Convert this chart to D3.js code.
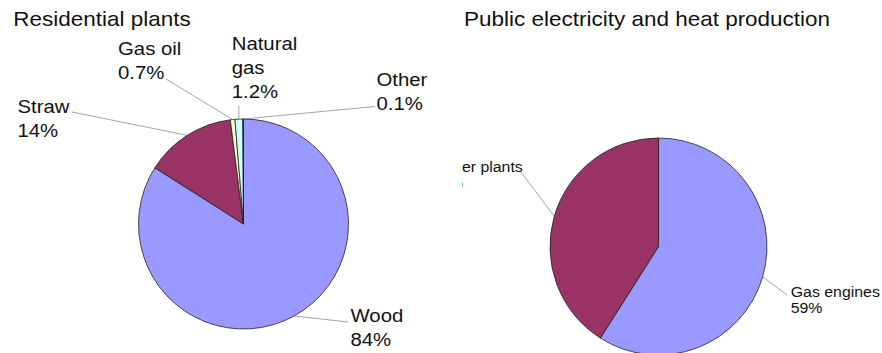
<!DOCTYPE html>
<html>
<head>
<meta charset="utf-8">
<script src="https://cdn.jsdelivr.net/npm/d3@7"></script>
<style>
  body { margin: 0; background: #fff; }
  svg { display: block; font-family: "Liberation Sans", Arial, sans-serif; }
</style>
</head>
<body>
<div id="chart"></div>
<script>
// Residential plants
const resCategories = ["Wood", "Straw", "Gas oil", "Natural gas", "Other"];
const resValues = [84, 14, 0.7, 1.2, 0.1];
const resLabels = [["Wood", "84%"], ["Straw", "14%"], ["Gas oil", "0.7%"], ["Natural", "gas", "1.2%"], ["Other", "0.1%"]];

// Public electricity and heat production
const pubCategories = ["Gas engines", "Power plants"];
const pubValues = [59, 41];
const pubLabels = [["Gas engines", "59%"], ["Power plants", "41%"]];

const colors = {
  "Wood": "#9999ff", "Straw": "#993366", "Gas oil": "#ffffcc",
  "Natural gas": "#ccffff", "Other": "#660066",
  "Gas engines": "#9999ff", "Power plants": "#993366"
};

const W = 882, H = 353;
const svg = d3.select("#chart").append("svg")
  .attr("width", W).attr("height", H);

svg.append("defs").append("clipPath").attr("id", "rightClip")
  .append("rect").attr("x", 462).attr("y", 0).attr("width", W - 462).attr("height", H);

// stretched text helper (the source font is wider than Arial)
function stretchedText(g, x, y, lines, size, sx, lh) {
  const t = g.append("text")
    .attr("transform", `translate(${x},${y}) scale(${sx},1)`)
    .attr("font-size", size)
    .attr("fill", "#111");
  lines.forEach((l, i) => {
    t.append("tspan").attr("x", 0).attr("y", i * lh).text(l);
  });
}

function drawPie(g, cats, vals, labels, o) {
  const pie = d3.pie().sort(null).value(d => d.v);
  const arcs = pie(cats.map((c, i) => ({ c, v: vals[i] })));
  const arc = d3.arc().innerRadius(0).outerRadius(o.r);
  const edge = d3.arc().innerRadius(o.r).outerRadius(o.r);

  const pg = g.append("g").attr("transform", `translate(${o.cx},${o.cy})`);

  // leader lines
  arcs.forEach(a => {
    const p = edge.centroid(a);
    const L = o.layout[a.data.c];
    pg.append("line")
      .attr("x1", p[0]).attr("y1", p[1])
      .attr("x2", L.lx - o.cx).attr("y2", L.ly - o.cy)
      .attr("stroke", "#9a9a9a").attr("stroke-width", 0.9);
  });

  pg.selectAll("path.slice")
    .data(arcs)
    .enter().append("path")
    .attr("class", "slice")
    .attr("d", arc)
    .attr("fill", d => colors[d.data.c])
    .attr("stroke", "#222")
    .attr("stroke-width", 0.8)
    .attr("stroke-linejoin", "round");

  arcs.forEach((a, i) => {
    const L = o.layout[a.data.c];
    stretchedText(g, L.x, L.y, labels[i], o.font, o.sx, o.lh);
  });
}

// left chart
const left = svg.append("g");
stretchedText(left, 13.3, 26.3, ["Residential plants"], 20, 1.125, 0);
drawPie(left, resCategories, resValues, resLabels, {
  cx: 243.5, cy: 224, r: 105, font: 18.5, sx: 1.1, lh: 24,
  layout: {
    "Wood": { x: 350.5, y: 322, lx: 348, ly: 322 },
    "Straw": { x: 17.5, y: 113, lx: 72, ly: 112 },
    "Gas oil": { x: 118, y: 55, lx: 166, ly: 79 },
    "Natural gas": { x: 231.7, y: 50, lx: 238.8, ly: 106 },
    "Other": { x: 376.5, y: 86, lx: 375, ly: 106.5 }
  }
});

// right chart (clipped on the left like the source)
const right = svg.append("g").attr("clip-path", "url(#rightClip)");
stretchedText(right, 464, 26, ["Public electricity and heat production"], 20, 1.125, 0);
drawPie(right, pubCategories, pubValues, pubLabels, {
  cx: 658.5, cy: 246.5, r: 108.5, font: 15, sx: 1.06, lh: 16,
  layout: {
    "Gas engines": { x: 790.7, y: 297, lx: 787, ly: 295 },
    "Power plants": { x: 431, y: 171.7, lx: 521, ly: 172 }
  }
});
</script>
</body>
</html>
